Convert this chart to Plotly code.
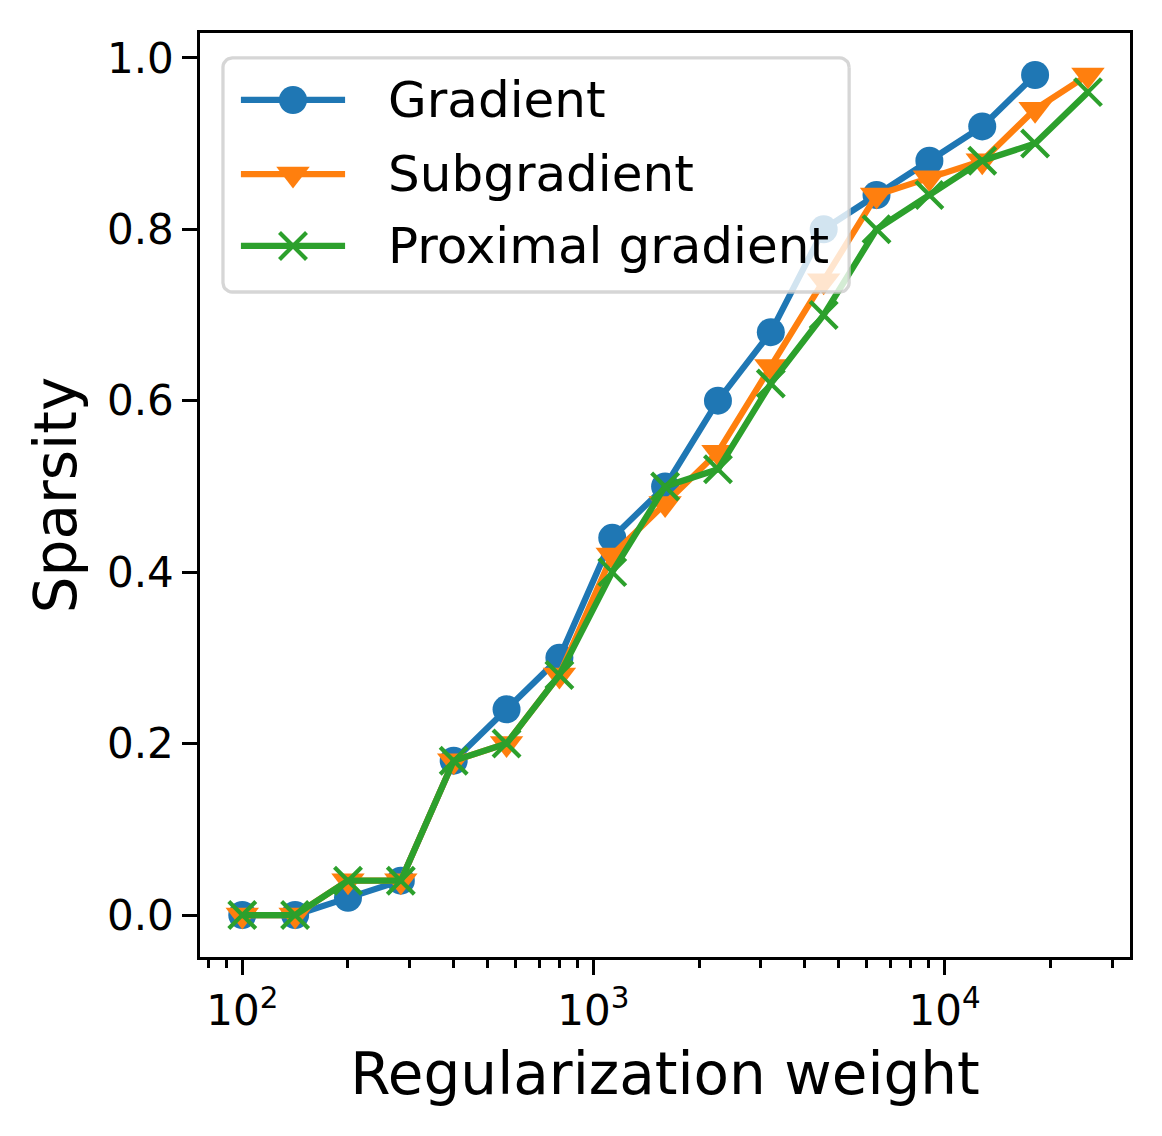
import numpy as np
import plotly.graph_objects as go

weights = [100, 141.4, 200, 282.8, 400, 565.7, 800, 1131.4, 1600, 2262.7,
           3200, 4525.5, 6400, 9051, 12800, 18102, 25600]

gradient = [0.0, 0.0, 0.02, 0.04, 0.18, 0.24, 0.30, 0.44, 0.50, 0.60,
            0.68, 0.80, 0.84, 0.88, 0.92, 0.98]
subgradient = [0.0, 0.0, 0.04, 0.04, 0.18, 0.20, 0.28, 0.42, 0.48, 0.54,
               0.64, 0.74, 0.84, 0.86, 0.88, 0.94, 0.98]
proximal = [0.0, 0.0, 0.04, 0.04, 0.18, 0.20, 0.28, 0.40, 0.50, 0.52,
            0.62, 0.70, 0.80, 0.84, 0.88, 0.90, 0.96]

series_names = ["Gradient", "Subgradient", "Proximal gradient"]

x_tick_vals = [100, 1000, 10000]
x_tick_text = ["10<sup>2</sup>", "10<sup>3</sup>", "10<sup>4</sup>"]
x_minor_vals = [80, 90, 200, 300, 400, 500, 600, 700, 800, 900,
                2000, 3000, 4000, 5000, 6000, 7000, 8000, 9000, 20000, 30000]
y_tick_vals = [0.0, 0.2, 0.4, 0.6, 0.8, 1.0]

FONT = "DejaVu Sans"
LW = 6.25
colors = ["#1f77b4", "#ff7f0e", "#2ca02c"]
markers = [
    dict(symbol="circle", size=28),
    dict(symbol="triangle-down", size=29),
    dict(symbol="x-thin", size=27, line=dict(width=4.2)),
]

fig = go.Figure()
for name, ys, col, mk in zip(series_names, [gradient, subgradient, proximal], colors, markers):
    m = dict(mk)
    m["color"] = col
    if "line" in m:
        m["line"] = dict(m["line"], color=col)
    fig.add_trace(go.Scatter(
        x=weights[:len(ys)], y=ys, name=name, mode="lines+markers",
        line=dict(color=col, width=LW), marker=m, showlegend=False))

# ---- legend box drawn on an overlay axis (axes-fraction coordinates) ----
box_x0, box_x1 = 0.0247, 0.698
box_y0, box_y1 = 0.7197, 0.973
rad_x, rad_y = 0.010, 0.010
t = np.linspace(0, np.pi / 2, 8)
corners = [
    (box_x1 - rad_x, box_y1 - rad_y, t),                 # top-right
    (box_x0 + rad_x, box_y1 - rad_y, t + np.pi / 2),     # top-left
    (box_x0 + rad_x, box_y0 + rad_y, t + np.pi),         # bottom-left
    (box_x1 - rad_x, box_y0 + rad_y, t + 3 * np.pi / 2), # bottom-right
]
bx, by = [], []
for cx, cy, ang in corners:
    bx.extend(cx + rad_x * np.cos(ang))
    by.extend(cy + rad_y * np.sin(ang))
bx.append(bx[0])
by.append(by[0])
fig.add_trace(go.Scatter(
    x=bx, y=by, xaxis="x2", yaxis="y2", mode="lines", fill="toself",
    fillcolor="rgba(255,255,255,0.8)", line=dict(color="rgba(204,204,204,0.8)", width=3.3),
    hoverinfo="skip", showlegend=False))

leg_line_x = [0.044, 0.100, 0.156]
leg_text_x = 0.200
leg_rows = [0.9275, 0.8474, 0.7695]
for name, col, mk, ry in zip(series_names, colors, markers, leg_rows):
    m = dict(mk)
    m["color"] = col
    if "line" in m:
        m["line"] = dict(m["line"], color=col)
    fig.add_trace(go.Scatter(
        x=leg_line_x, y=[ry] * 3, xaxis="x2", yaxis="y2", mode="lines",
        line=dict(color=col, width=LW), hoverinfo="skip", showlegend=False))
    fig.add_trace(go.Scatter(
        x=[leg_line_x[1]], y=[ry], xaxis="x2", yaxis="y2", mode="markers",
        marker=m, hoverinfo="skip", showlegend=False))
    fig.add_annotation(
        x=leg_text_x, y=ry, xref="x2", yref="y2", text=name, showarrow=False,
        xanchor="left", yanchor="middle", font=dict(family=FONT, size=50, color="black"))

fig.update_layout(
    width=1162, height=1136,
    margin=dict(l=200, r=32, t=33, b=179),
    paper_bgcolor="white", plot_bgcolor="white",
    font=dict(family=FONT, color="black", size=42),
    showlegend=False,
    xaxis2=dict(overlaying="x", range=[0, 1], visible=False, anchor="y2", fixedrange=True),
    yaxis2=dict(overlaying="y", range=[0, 1], visible=False, anchor="x2", fixedrange=True),
)

fig.update_xaxes(
    selector=dict(type="log"),
)
fig.layout.xaxis.update(
    type="log", range=[1.8796, 4.528],
    tickmode="array", tickvals=x_tick_vals, ticktext=x_tick_text,
    ticks="outside", ticklen=14.6, tickwidth=3.3, tickcolor="black",
    tickfont=dict(family=FONT, size=42),
    showline=True, linecolor="black", linewidth=3.3, mirror=True,
    showgrid=False, zeroline=False,
    minor=dict(tickmode="array", tickvals=x_minor_vals, ticks="outside",
               ticklen=8.3, tickwidth=2.5, tickcolor="black", showgrid=False),
    title=dict(text="Regularization weight", font=dict(family=FONT, size=58), standoff=20),
)
fig.layout.yaxis.update(
    range=[-0.049, 1.029],
    tickmode="array", tickvals=y_tick_vals, tickformat=".1f",
    ticks="outside", ticklen=14.6, tickwidth=3.3, tickcolor="black",
    tickfont=dict(family=FONT, size=42),
    showline=True, linecolor="black", linewidth=3.3, mirror=True,
    showgrid=False, zeroline=False,
    title=dict(text="Sparsity", font=dict(family=FONT, size=58), standoff=12),
)

fig.write_html("out.html")
